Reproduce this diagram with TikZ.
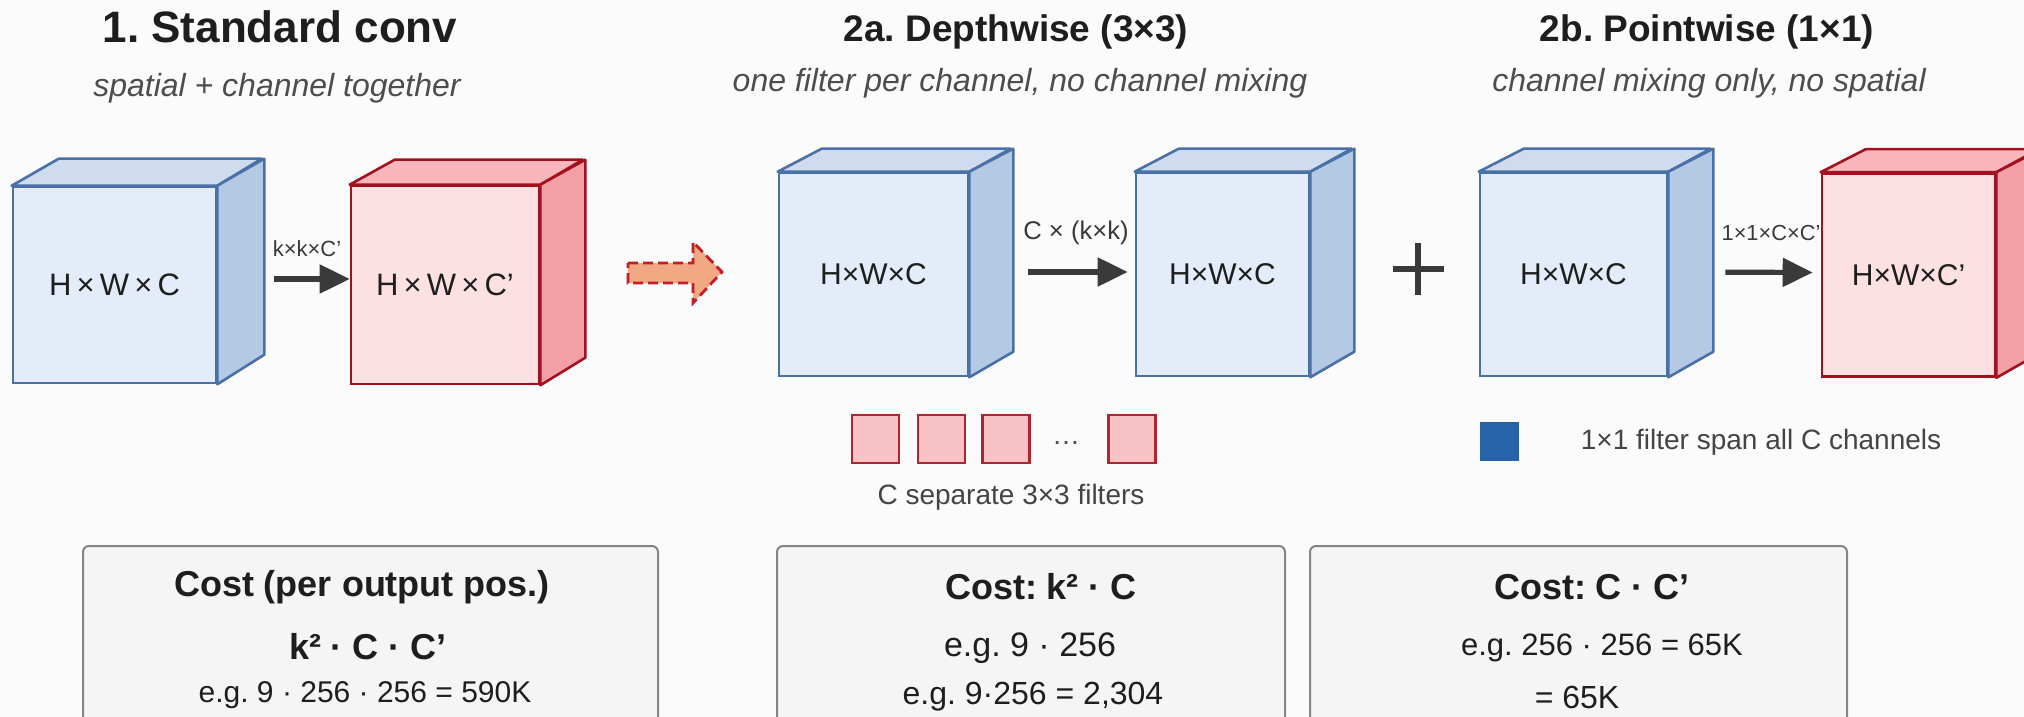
\documentclass[tikz,border=0pt]{standalone}
\usepackage{fontspec}
\setmainfont{Liberation Sans}
\usetikzlibrary{arrows.meta}
\frenchspacing

\definecolor{bgpaper}{HTML}{FBFBFB}
\definecolor{bluefrontc}{HTML}{E3ECF8}
\definecolor{bluetopc}{HTML}{CFDCEF}
\definecolor{bluesidec}{HTML}{B4C9E3}
\definecolor{bluelinec}{HTML}{4A70A8}
\definecolor{redfrontc}{HTML}{FDE0E2}
\definecolor{redtopc}{HTML}{F8B6BA}
\definecolor{redsidec}{HTML}{F2A0A5}
\definecolor{redlinec}{HTML}{A3111F}
\definecolor{ink}{HTML}{1E1E1E}
\definecolor{arrowgray}{HTML}{3A3A3A}
\definecolor{subgray}{HTML}{4D4D4D}
\definecolor{notegray}{HTML}{444444}
\definecolor{filterfill}{HTML}{F9C3C6}
\definecolor{filterline}{HTML}{B02330}
\definecolor{pointblue}{HTML}{2862A9}
\definecolor{costfill}{HTML}{F5F5F5}
\definecolor{costline}{HTML}{858585}
\definecolor{hintfill}{HTML}{F2A882}
\definecolor{hintline}{HTML}{C41D26}

\newcommand\fsz[1]{\fontsize{#1}{#1}\selectfont}

% cube: name, centre x, centre y, width, height, depth dx, depth dy, colour prefix, label
\newcommand\drawcube[9]{%
  \node[#8front, minimum width=#4*0.5pt, minimum height=#5*0.5pt] (#1) at (#2,#3) {#9};
  \draw[#8top] (#1.north west) -- ++(#6,-#7) -- ++(#4,0) -- (#1.north east) -- cycle;
  \draw[#8side] (#1.north east) -- ++(#6,-#7) -- ++(0,#5) -- (#1.south east) -- cycle;
}

\tikzset{
  bfront/.style={draw=bluelinec, fill=bluefrontc, line width=1.3pt, inner sep=0pt, text=ink, font=\fsz{15.5}},
  btop/.style={draw=bluelinec, fill=bluetopc, line width=1.3pt, line join=round},
  bside/.style={draw=bluelinec, fill=bluesidec, line width=1.3pt, line join=round},
  rfront/.style={draw=redlinec, fill=redfrontc, line width=1.3pt, inner sep=0pt, text=ink, font=\fsz{15.5}},
  rtop/.style={draw=redlinec, fill=redtopc, line width=1.3pt, line join=round},
  rside/.style={draw=redlinec, fill=redsidec, line width=1.3pt, line join=round},
  flow/.style={draw=arrowgray, line width=2.6pt, -{Triangle[length=15pt,width=14pt]}},
  arrowlabel/.style={text=arrowgray, inner sep=0pt},
  headline/.style={text=ink, font=\bfseries\fsz{18.5}, anchor=base, inner sep=0pt},
  subline/.style={text=subgray, font=\itshape\fsz{16}, anchor=base, inner sep=0pt},
  filterbox/.style={draw=filterline, fill=filterfill, line width=1.2pt, minimum width=23.5pt, minimum height=24pt, inner sep=0pt},
  notetext/.style={text=notegray, font=\fsz{14}, inner sep=0pt},
  costbox/.style={draw=costline, fill=costfill, line width=1pt, rounded corners=3pt, minimum height=100pt, anchor=north, inner sep=0pt},
  costhead/.style={text=ink, font=\bfseries\fsz{18}, inner sep=0pt},
  costtext/.style={text=ink, inner sep=0pt},
}

\begin{document}
\begin{tikzpicture}[x=0.5pt, y=-0.5pt]
  \useasboundingbox (0,0) rectangle (2024,717);
  \clip (0,0) rectangle (2024,717);
  \fill[bgpaper] (0,0) rectangle (2024,717);

  % section headings
  \node[headline, font=\bfseries\fsz{22}] (t1) at (280,43) {1. Standard conv};
  \node[subline] (s1) at (277,97) {spatial + channel together};
  \node[headline] (t2) at (1016,42) {2a. Depthwise (3×3)};
  \node[subline] (s2) at (1020,92) {one filter per channel, no channel mixing};
  \node[headline] (t3) at (1707,42) {2b. Pointwise (1×1)};
  \node[subline] (s3) at (1709,92) {channel mixing only, no spatial};

  % feature-map cubes
  \drawcube{c1}{114.5}{285}{203}{196}{47}{27}{b}{H\,×\,W\,×\,C}
  \drawcube{c2}{445}{285}{188}{198}{45}{25}{r}{H\,×\,W\,×\,C'}
  \drawcube{c3}{873.5}{274.5}{189}{203}{44}{23}{b}{\fsz{15}H×W×C}
  \drawcube{c4}{1222.5}{274.5}{173}{203}{44}{23}{b}{\fsz{15}H×W×C}
  \drawcube{c5}{1573.5}{274.5}{187}{203}{45}{23}{b}{\fsz{15}H×W×C}
  \drawcube{c6}{1908.5}{275}{173}{203}{45}{23}{r}{\fsz{15}H×W×C'}

  % convolution arrows
  \draw[flow, shorten <=28.5pt] ([yshift=3pt]c1.east) -- ([yshift=3pt]c2.west);
  \node[arrowlabel, font=\fsz{11}] (l1) at (307,249) {k×k×C'};
  \draw[flow, shorten <=29.5pt, shorten >=3.5pt] ([yshift=1.25pt]c3.east) -- ([yshift=1.25pt]c4.west);
  \node[arrowlabel, font=\fsz{12.8}] (l2) at (1076,233) {C × (k×k)};
  \draw[flow, shorten <=28.5pt, shorten >=4pt] ([yshift=1.25pt]c5.east) -- ([yshift=1.25pt]c6.west);
  \node[arrowlabel, font=\fsz{10.9}] (l3) at (1771,233) {1×1×C×C'};

  % dashed hint arrow between the two approaches
  \draw[hintline, fill=hintfill, line width=1.4pt, dash pattern=on 5pt off 2.5pt, line join=miter]
    (628,263) -- (693,263) -- (693,242) -- (722,272) -- (693,303) -- (693,283) -- (628,283) -- cycle;

  % plus sign
  \draw[arrowgray, line width=3pt] (1393,269) -- (1444,269) (1418,243) -- (1418,295);

  % depthwise filters
  \node[filterbox] (f1) at (875.5,439) {};
  \node[filterbox] (f2) at (941.5,439) {};
  \node[filterbox] (f3) at (1006,439) {};
  \node[notetext, text=subgray] (fd) at (1066,443) {…};
  \node[filterbox] (f4) at (1132,439) {};
  \node[notetext] (fc) at (1011,497) {C separate 3×3 filters};

  % pointwise filter
  \node[draw=pointblue, fill=pointblue, minimum size=19pt, inner sep=0pt] (p1) at (1499,441) {};
  \node[notetext] (pc) at (1761,442) {1×1 filter span all C channels};

  % cost panels
  \node[costbox, minimum width=287.5pt] (k1) at (370.5,545) {};
  \node[costhead] (k1a) at (362,587) {Cost (per output pos.)};
  \node[costhead] (k1b) at (368,647) {k² · C · C’};
  \node[costtext, font=\fsz{15}] (k1c) at (365,695) {e.g. 9 · 256 · 256 = 590K};

  \node[costbox, minimum width=254pt] (k2) at (1031,545) {};
  \node[costhead] (k2a) at (1041,587) {Cost: k² · C};
  \node[costtext, font=\fsz{17}] (k2b) at (1030,648) {e.g. 9 · 256};
  \node[costtext, font=\fsz{16}] (k2c) at (1033,697) {e.g. 9·256 = 2,304};

  \node[costbox, minimum width=268.5pt] (k3) at (1578.5,545) {};
  \node[costhead] (k3a) at (1592,587) {Cost: C · C’};
  \node[costtext, font=\fsz{15.5}] (k3b) at (1602,648) {e.g. 256 · 256 = 65K};
  \node[costtext, font=\fsz{16}] (k3c) at (1577,697) {= 65K};
\end{tikzpicture}
\end{document}
